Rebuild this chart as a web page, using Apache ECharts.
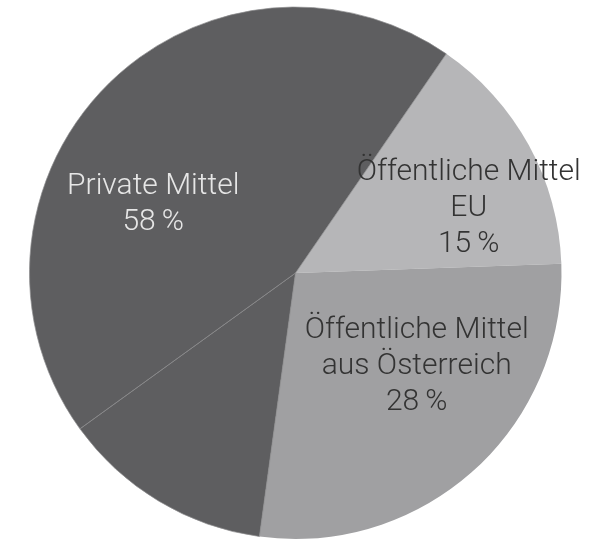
<!DOCTYPE html>
<html>
<head>
<meta charset="utf-8">
<script src="https://cdn.jsdelivr.net/npm/echarts@6/dist/echarts.min.js"></script>
<style>
  html, body { margin: 0; padding: 0; background: #ffffff; }
  #chart { width: 605px; height: 542px; }
</style>
</head>
<body>
<div id="chart"></div>
<script>
// Funding sources (percent)
const categories = ['Öffentliche Mittel\nEU', 'Öffentliche Mittel\naus Österreich', 'Private Mittel'];
const shares = [15, 28, 58];
// The private share is drawn as two adjoining segments of the same colour
const privateParts = [13, 45];

const colors = ['#b6b6b8', '#a0a0a2', '#5e5e60'];
const textColors = ['#333333', '#333333', '#e6e6e6'];
// Label nudges from the default inside position
const labelShift = [[54, 1], [30, -7], [-45, 27]];

function pctText(v) { return v + '\u2009%'; }

const data = [
  {
    name: categories[0], value: shares[0],
    itemStyle: { color: colors[0] },
    label: { color: textColors[0], formatter: categories[0] + '\n' + pctText(shares[0]) }
  },
  {
    name: categories[1], value: shares[1],
    itemStyle: { color: colors[1] },
    label: { color: textColors[1], formatter: categories[1] + '\n' + pctText(shares[1]) }
  },
  {
    name: categories[2], value: privateParts[0],
    itemStyle: { color: colors[2], borderColor: '#8c8c8e', borderWidth: 0.7 },
    label: { show: false }
  },
  {
    name: categories[2], value: privateParts[1],
    itemStyle: { color: colors[2], borderColor: '#8c8c8e', borderWidth: 0.7 },
    label: { color: textColors[2], formatter: categories[2] + '\n' + pctText(shares[2]) }
  }
];
const shiftIndex = [0, 1, -1, 2];

const chart = echarts.init(document.getElementById('chart'), null, { renderer: 'canvas' });
chart.setOption({
  animation: false,
  series: [{
    type: 'pie',
    center: [295.5, 273],
    radius: 266,
    startAngle: 55.47,
    clockwise: true,
    silent: true,
    labelLine: { show: false },
    label: {
      show: true,
      position: 'inside',
      fontFamily: 'Roboto',
      fontWeight: 300,
      fontSize: 30,
      lineHeight: 36,
      align: 'center'
    },
    labelLayout: function (p) {
      const k = shiftIndex[p.dataIndex];
      if (k < 0) return {};
      return { dx: labelShift[k][0], dy: labelShift[k][1] };
    },
    data: data
  }]
});
</script>
</body>
</html>
